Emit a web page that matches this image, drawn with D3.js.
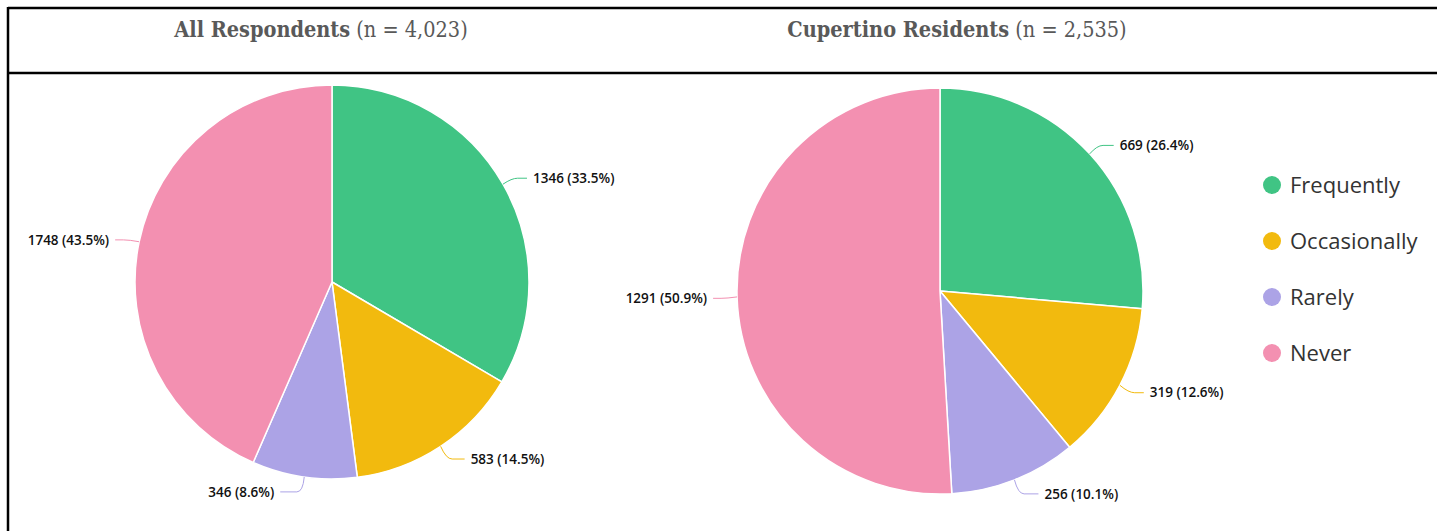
<!DOCTYPE html>
<html><head><meta charset="utf-8">
<script src="https://cdn.jsdelivr.net/npm/d3@7"></script>
<style>body{margin:0;background:#fff;}svg{display:block;}</style>
</head><body>
<svg id="c" width="1437" height="531"></svg>
<script>
const categories = ["Frequently", "Occasionally", "Rarely", "Never"];
const colors = ["#40C484", "#F2BA0E", "#ACA3E6", "#F390B1"];
const allValues = [1346, 583, 346, 1748];
const allPct = [33.5, 14.5, 8.6, 43.5];
const cupValues = [669, 319, 256, 1291];
const cupPct = [26.4, 12.6, 10.1, 50.9];
const titles = [["All Respondents", " (n = 4,023)"], ["Cupertino Residents", " (n = 2,535)"]];

const svg = d3.select("#c");
const W = 1437, H = 531;

// frame
svg.append("line").attr("x1", 8).attr("x2", W).attr("y1", 8).attr("y2", 8).attr("stroke", "#000").attr("stroke-width", 2.5);
svg.append("line").attr("x1", 8).attr("x2", W).attr("y1", 73).attr("y2", 73).attr("stroke", "#000").attr("stroke-width", 2.5);
svg.append("line").attr("x1", 8).attr("x2", 8).attr("y1", 7).attr("y2", H).attr("stroke", "#000").attr("stroke-width", 2.5);

const titleX = [321, 957];
titles.forEach((t, i) => {
  const tx = svg.append("text").attr("x", titleX[i]).attr("y", 37).attr("text-anchor", "middle")
    .attr("font-family", "DejaVu Serif Condensed, DejaVu Serif, serif").attr("font-stretch", "condensed")
    .attr("font-size", 21.5).attr("fill", "#595959");
  tx.append("tspan").attr("font-weight", "bold").text(t[0]);
  tx.append("tspan").text(t[1]);
});

const colorScale = d3.scaleOrdinal().domain(categories).range(colors);

function drawPie(values, pcts, cx, cy, r) {
  const data = categories.map((c, i) => ({cat: c, value: values[i], pct: pcts[i]}));
  const pie = d3.pie().value(d => d.value).sort(null);
  const arcs = pie(data);
  const arc = d3.arc().innerRadius(0).outerRadius(r);
  const g = svg.append("g").attr("transform", `translate(${cx},${cy})`);
  g.selectAll("path.slice").data(arcs).join("path").attr("class", "slice")
    .attr("d", arc).attr("fill", d => colorScale(d.data.cat))
    .attr("stroke", "#fff").attr("stroke-width", 1.5).attr("stroke-linejoin", "round");
  arcs.forEach(a => {
    const m = (a.startAngle + a.endAngle) / 2;
    const s = Math.sin(m), c = Math.cos(m);
    const side = s >= 0 ? 1 : -1;
    const px = r * s, py = -r * c;
    const ex = (r + 10) * s;
    const ly = -(r + 14) * c + 1;
    const lx = px + side * 30;
    const endX = lx - side * 6;
    g.append("path")
      .attr("d", `M${px},${py} Q${ex},${ly} ${ex + side * 6},${ly} L${endX},${ly}`)
      .attr("fill", "none").attr("stroke", colorScale(a.data.cat)).attr("stroke-width", 1);
    g.append("text").attr("x", lx).attr("y", ly).attr("dy", "0.35em")
      .attr("text-anchor", side > 0 ? "start" : "end")
      .attr("font-family", "Open Sans, sans-serif").attr("font-size", 13.5).attr("font-weight", 600)
      .attr("fill", "#111")
      .text(`${a.data.value} (${a.data.pct}%)`);
  });
}

drawPie(allValues, allPct, 332, 282, 197);
drawPie(cupValues, cupPct, 940, 291, 203);

// legend
const lg = svg.append("g");
const ly0 = 185, lstep = 56;
categories.forEach((c, i) => {
  lg.append("circle").attr("cx", 1272).attr("cy", ly0 + i * lstep).attr("r", 9).attr("fill", colorScale(c));
  lg.append("text").attr("x", 1290).attr("y", ly0 + i * lstep).attr("dy", "0.36em")
    .attr("font-family", "Open Sans, sans-serif").attr("font-size", 22).attr("fill", "#333")
    .text(c);
});
</script>
</body></html>
